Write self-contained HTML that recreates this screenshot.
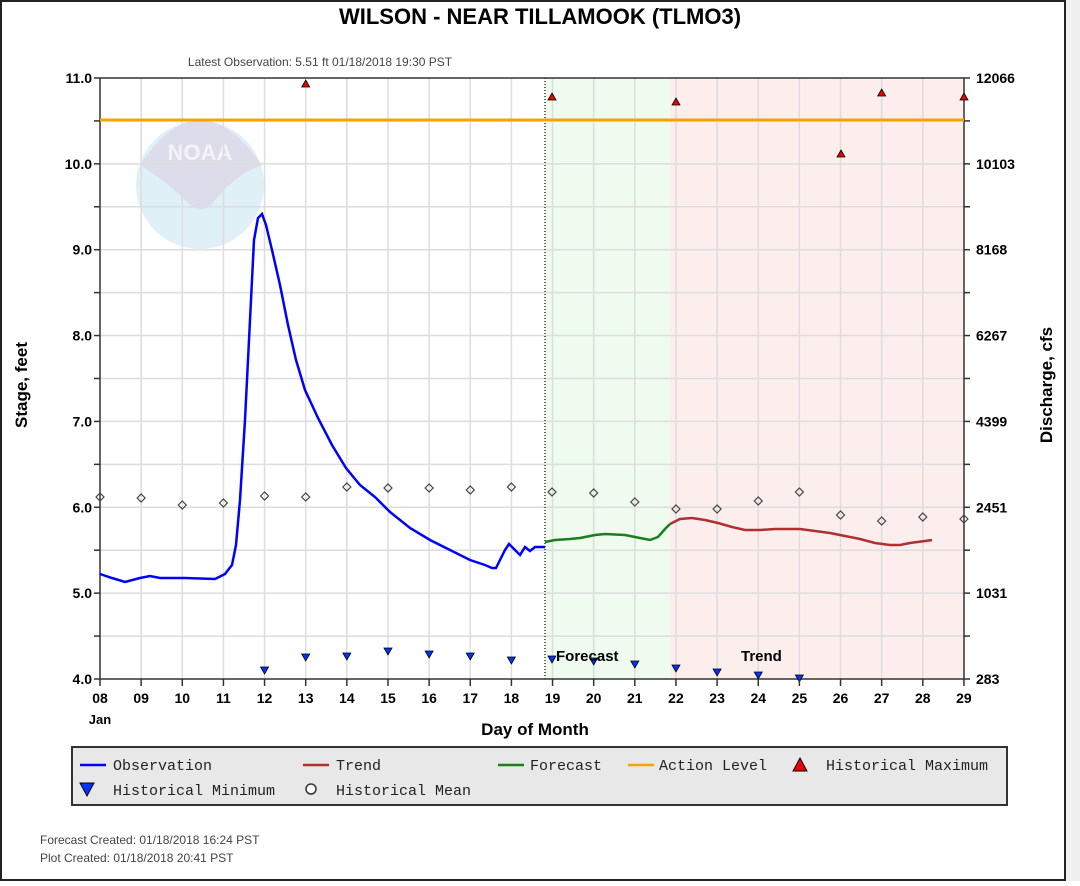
<!DOCTYPE html>
<html><head><style>
body{margin:0;background:#fff;width:1080px;height:881px;overflow:hidden;font-family:"Liberation Sans",sans-serif}
</style></head><body>
<svg width="1080" height="881" xmlns="http://www.w3.org/2000/svg" font-family="Liberation Sans, sans-serif">
<rect x="1" y="1" width="1064" height="879" fill="#fff" stroke="#222" stroke-width="2"/>
<rect x="1066" y="0" width="14" height="881" fill="#f0f0f0"/>
<text x="540" y="24" text-anchor="middle" font-size="22" font-weight="bold">WILSON - NEAR TILLAMOOK  (TLMO3)</text>
<text x="320" y="66" text-anchor="middle" font-size="12" fill="#444">Latest Observation: 5.51 ft 01/18/2018 19:30 PST</text>
<!-- shaded regions -->
<rect x="545" y="78" width="125" height="601" fill="#eefbee"/>
<rect x="670" y="78" width="294" height="601" fill="#fdeeee"/>
<!-- NOAA logo faint -->
<circle cx="200" cy="185" r="64" fill="#ddeef6" opacity="0.9"/>
<path d="M140 165 Q170 120 200 120 Q230 120 262 165 Q235 175 215 200 Q205 215 190 205 Q165 180 140 165Z" fill="#dcdcea"/>
<text x="200" y="160" text-anchor="middle" font-size="22" font-weight="bold" fill="#f4f4f8">NOAA</text>
<g id="grid" stroke="#ddd" stroke-width="1.5">
</g>
<g id="g2"></g>
<line x1="545" y1="78" x2="545" y2="679" stroke="#333" stroke-dasharray="1,2" stroke-width="1.5"/>
<rect x="100" y="78" width="864" height="601" fill="none" stroke="#333" stroke-width="1.5"/>
<line x1="100" y1="120" x2="964" y2="120" stroke="#f5a300" stroke-width="3"/>
<!-- observation -->
<polyline fill="none" stroke="#0000ff" stroke-width="2.5" points="100,574 112,578 125,582 140,578 150,576 160,578 185,578 215,579 225,574 232,565 236,545 240,500 245,420 250,320 254,240 258,218 262,214 266,225 272,250 280,285 288,325 296,360 305,390 318,418 332,445 346,468 360,485 375,497 390,512 410,528 430,540 450,550 470,560 485,565 492,568 496,568 500,560 505,550 509,544 515,550 520,555 525,547 530,551 535,547 545,547"/>
<polyline fill="none" stroke="#1a7f1a" stroke-width="2.5" points="545,542 555,540 570,539 580,538 595,535 605,534 625,535 640,538 650,540 658,537 665,529 670,524"/>
<polyline fill="none" stroke="#b03030" stroke-width="2.5" points="670,524 680,519 692,518 705,520 718,523 732,527 745,530 760,530 775,529 800,529 815,531 830,533 845,536 860,539 875,543 890,545 900,545 910,543 925,541 932,540"/>
<g id="marks"></g>
<text x="556" y="661" font-size="15" font-weight="bold">Forecast</text>
<text x="741" y="661" font-size="15" font-weight="bold">Trend</text>
<g id="axes" font-size="14" font-weight="bold"></g>
<text x="535" y="735" text-anchor="middle" font-size="17" font-weight="bold">Day of Month</text>
<text x="100" y="724" text-anchor="middle" font-size="13" font-weight="bold">Jan</text>
<text transform="translate(27,385) rotate(-90)" text-anchor="middle" font-size="17" font-weight="bold">Stage, feet</text>
<text transform="translate(1052,385) rotate(-90)" text-anchor="middle" font-size="17" font-weight="bold">Discharge, cfs</text>
<!-- legend -->
<rect x="72" y="747" width="935" height="58" fill="#e8e8e8" stroke="#333" stroke-width="2"/>
<g font-size="15" font-family="Liberation Mono, monospace" fill="#222">
<line x1="80" y1="765" x2="106" y2="765" stroke="#0000ff" stroke-width="2.5"/><text x="113" y="770">Observation</text>
<line x1="303" y1="765" x2="329" y2="765" stroke="#b03030" stroke-width="2.5"/><text x="336" y="770">Trend</text>
<line x1="498" y1="765" x2="524" y2="765" stroke="#1a7f1a" stroke-width="2.5"/><text x="530" y="770">Forecast</text>
<line x1="628" y1="765" x2="654" y2="765" stroke="#f5a300" stroke-width="2.5"/><text x="659" y="770">Action Level</text>
<polygon points="800,758 807,771 793,771" fill="#e00" stroke="#000"/><text x="826" y="770">Historical Maximum</text>
<polygon points="80,783 94,783 87,796" fill="#0033ff" stroke="#000"/><text x="113" y="795">Historical Minimum</text>
<circle cx="311" cy="789" r="5" fill="#fff" stroke="#333" stroke-width="1.5"/><text x="336" y="795">Historical Mean</text>
</g>
<text x="40" y="844" font-size="12" fill="#444">Forecast Created: 01/18/2018 16:24 PST</text>
<text x="40" y="862" font-size="12" fill="#444">Plot Created: 01/18/2018 20:41 PST</text>
</svg>
<script>
var ns="http://www.w3.org/2000/svg";
function el(p,t,a,txt){var e=document.createElementNS(ns,t);for(var k in a)e.setAttribute(k,a[k]);if(txt!==undefined)e.textContent=txt;p.appendChild(e);return e;}
var g=document.getElementById('grid'),ax=document.getElementById('axes'),m=document.getElementById('marks');
function X(d){return 100+(d-8)*41.14;}
function Y(v){return 679-(v-4)*85.86;}
for(var d=9;d<29;d++)el(g,'line',{x1:X(d),y1:78,x2:X(d),y2:679});
for(var v=4.5;v<11;v+=0.5)el(g,'line',{x1:100,y1:Y(v),x2:964,y2:Y(v)});
var rl=['283','1031','2451','4399','6267','8168','10103','12066'];
for(var i=0;i<=7;i++){var y=Y(4+i);
el(ax,'text',{x:92,y:y+5,'text-anchor':'end'},(4+i).toFixed(1));
el(ax,'text',{x:976,y:y+5},rl[i]);}
for(var v=4;v<=11;v+=0.5){el(ax,'line',{x1:94,y1:Y(v),x2:100,y2:Y(v),stroke:'#333','stroke-width':1.5});el(ax,'line',{x1:964,y1:Y(v),x2:970,y2:Y(v),stroke:'#333','stroke-width':1.5});}
for(var d=8;d<=29;d++){el(ax,'line',{x1:X(d),y1:679,x2:X(d),y2:686,stroke:'#333','stroke-width':1.5});
el(ax,'text',{x:X(d),y:703,'text-anchor':'middle'},(d<10?'0':'')+d);}
var mean=[497,498,505,503,496,497,487,488,488,490,487,492,493,502,509,509,501,492,515,521,517,519];
mean.forEach(function(y,i){var x=X(8+i);if(i==11)x=552;el(m,'polygon',{points:(x-4)+','+y+' '+x+','+(y-4)+' '+(x+4)+','+y+' '+x+','+(y+4),fill:'none',stroke:'#444','stroke-width':1.2});});
[[X(13),84],[552,97],[676,102],[841,154],[X(27),93],[964,97]].forEach(function(p){el(m,'polygon',{points:p[0]+','+(p[1]-4)+' '+(p[0]+4)+','+(p[1]+3)+' '+(p[0]-4)+','+(p[1]+3),fill:'#e00',stroke:'#000','stroke-width':0.8});});
var mn=[670,657,656,651,654,656,660,659,661,664,668,672,675,678];
mn.forEach(function(y,i){var x=X(12+i);if(i==7)x=552;el(m,'polygon',{points:(x-4)+','+(y-3)+' '+(x+4)+','+(y-3)+' '+x+','+(y+4),fill:'#0033ff',stroke:'#000','stroke-width':0.8});});
</script>
</body></html>
